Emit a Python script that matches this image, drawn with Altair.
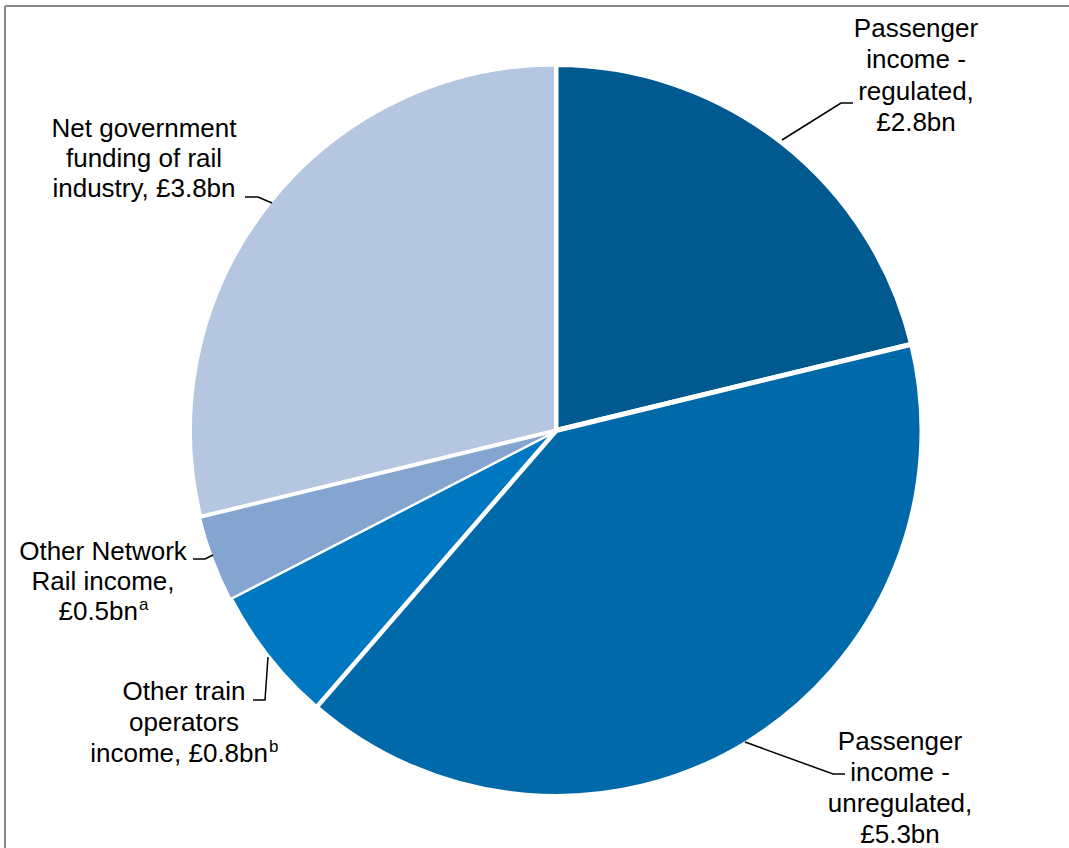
import altair as alt
import pandas as pd

W, H = 1069, 848

# --- data ---
categories = [
    "Passenger income - regulated",
    "Passenger income - unregulated",
    "Other train operators income",
    "Other Network Rail income",
    "Net government funding of rail industry",
]
values = [2.8, 5.3, 0.8, 0.5, 3.8]
colors = ["#005A90", "#0069AA", "#0078C1", "#84A5D0", "#B4C6E0"]
stroke_widths = [5, 5, 4, 1, 4]

pie_df = pd.DataFrame({
    "category": categories,
    "value": values,
    "idx": list(range(len(categories))),
    "sw": stroke_widths,
})

# --- label layout (pixel positions) ---
label_text = [
    "Passenger", "income -", "regulated,", "£2.8bn",
    "Passenger", "income -", "unregulated,", "£5.3bn",
    "Other train", "operators", "income, £0.8bn",
    "Other Network", "Rail income,", "£0.5bn",
    "Net government", "funding of rail", "industry, £3.8bn",
]
label_x = [916, 916, 916, 916,
           900, 900, 900, 900,
           184, 184, 268,
           103, 103, 138,
           144, 144, 144]
label_y = [37, 68, 100, 131,
           750, 781, 812, 843,
           700, 731, 762,
           560, 590, 620,
           137, 167, 197]
label_align = ["center"] * 8 + ["center", "center", "right"] + ["center", "center", "right"] + ["center"] * 3

sup_text = ["b", "a"]
sup_x = [269, 139]
sup_y = [752, 610]

# leader lines: (group, x, y)
leader_group = ["reg"] * 3 + ["unreg"] * 3 + ["train"] * 3 + ["nr"] * 3 + ["gov"] * 3
leader_x = [782, 841, 853,
            745, 833, 845,
            268, 265, 253,
            213, 205, 193,
            272, 258, 245]
leader_y = [140, 103, 103,
            742, 774, 774,
            657, 700, 700,
            555, 559, 559,
            203, 197, 197]

labels_df = pd.DataFrame({"text": label_text, "x": label_x, "y": label_y, "align": label_align})
sup_df = pd.DataFrame({"text": sup_text, "x": sup_x, "y": sup_y})
lead_df = pd.DataFrame({"g": leader_group, "x": leader_x, "y": leader_y, "o": list(range(len(leader_x)))})

xs = alt.Scale(domain=[0, W], range=[0, W])
ys = alt.Scale(domain=[0, H], range=[0, H])

pie = alt.Chart(pie_df).mark_arc(radius=366, stroke="white").encode(
    theta=alt.Theta("value:Q", stack=True),
    order=alt.Order("idx:Q"),
    color=alt.Color("category:N", scale=alt.Scale(domain=categories, range=colors), legend=None),
    strokeWidth=alt.StrokeWidth("sw:Q", scale=None),
    x=alt.value(556),
    y=alt.value(430.5),
)

leaders = alt.Chart(lead_df).mark_line(color="black", strokeWidth=1.5).encode(
    x=alt.X("x:Q", scale=xs, axis=None),
    y=alt.Y("y:Q", scale=ys, axis=None),
    detail="g:N",
    order="o:Q",
)

def text_layer(align):
    d = labels_df[labels_df["align"] == align]
    return alt.Chart(d).mark_text(
        font="Liberation Sans", fontSize=26, color="black", align=align, baseline="alphabetic"
    ).encode(
        x=alt.X("x:Q", scale=xs, axis=None),
        y=alt.Y("y:Q", scale=ys, axis=None),
        text="text:N",
    )

sups = alt.Chart(sup_df).mark_text(
    font="Liberation Sans", fontSize=17, color="black", align="left", baseline="alphabetic"
).encode(
    x=alt.X("x:Q", scale=xs, axis=None),
    y=alt.Y("y:Q", scale=ys, axis=None),
    text="text:N",
)

border_left = alt.Chart(pd.DataFrame({"a": [0]})).mark_rule(color="#888888", strokeWidth=2).encode(
    x=alt.value(5), y=alt.value(6), y2=alt.value(H)
)
border_top = alt.Chart(pd.DataFrame({"a": [0]})).mark_rule(color="#888888", strokeWidth=2).encode(
    x=alt.value(5), x2=alt.value(W), y=alt.value(6)
)

chart = alt.layer(
    pie, leaders, text_layer("center"), text_layer("right"), sups, border_left, border_top
).resolve_scale(theta="independent").properties(
    width=W, height=H, padding=0, autosize=alt.AutoSizeParams(type="none")
).configure_view(stroke=None)

chart.save("out.html", embed_options={"renderer": "svg", "actions": False})
